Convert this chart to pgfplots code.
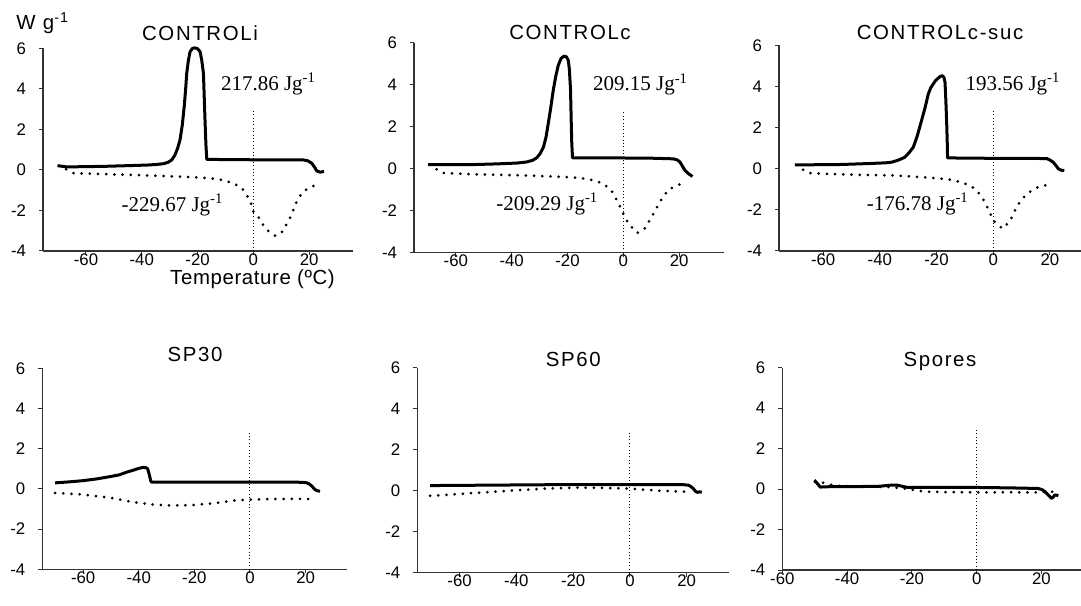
\documentclass[border=0pt]{standalone}
\usepackage{fontspec}
\setmainfont{Liberation Sans}
\newfontfamily\tnr{Liberation Serif}
\newfontfamily\ttl[LetterSpace=8]{Liberation Sans}
\newfontfamily\ttlb[LetterSpace=3]{Liberation Sans}
\usepackage{pgfplots}
\pgfplotsset{compat=1.18}

\pgfplotsset{
 dsc/.style={
  scale only axis,
  axis x line=bottom, axis y line=left,
  axis line style={-, black!80, line width=0.6bp},
  ymin=-4, ymax=6,
  ytick={-4,-2,0,2,4,6}, yticklabels={-4,-2,0,2,4,6},
  xtick={-60,-40,-20,0,20}, xticklabels={-60,-40,-20,0,20},
  tick align=outside,
  major tick length=2bp,
  tick style={black!80, line width=0.5bp},
  tick label style={font=\fontsize{8.4bp}{9bp}\selectfont},
  yticklabel style={xshift=-3bp},
  xticklabel style={yshift=4.3bp},
  clip=false,
 },
 solidc/.style={black, line width=1.5bp, line join=round, no markers},
 dotc/.style={black, line width=1.5bp, line cap=round, dash pattern=on 0pt off 4.1bp, no markers},
 zeroline/.style={black, line width=0.5bp, dash pattern=on 0.4bp off 1.3bp, no markers},
}
\tikzset{anno/.style={font=\tnr\fontsize{10.5bp}{12bp}\selectfont, anchor=base, inner sep=0pt}}
\newcommand{\ttlfont}{\ttl\fontsize{10.2bp}{12bp}\selectfont}

\begin{document}
\begin{tikzpicture}
\useasboundingbox (0,0) rectangle (540.5bp,303bp);

% ---------- CONTROLi ----------
\begin{axis}[dsc, at={(21.5bp,177.5bp)}, anchor=south west,
  width=155bp, height=101.35bp, xmin=-75.4, xmax=35.7]
\addplot[zeroline] coordinates {(0,-4) (0,2.96)};
\addplot[dotc] coordinates {
(-67.1,0.03) (-64.5,-0.16) (-60,-0.18) (-52.5,-0.21) (-45,-0.24) (-34.6,-0.29) (-27,-0.33) (-20.3,-0.37)
(-15,-0.42) (-11.9,-0.48) (-9.5,-0.56) (-7.2,-0.67) (-5.6,-0.77) (-4.2,-0.89) (-2.4,-1.22) (-0.9,-1.63)
(0,-2.05) (1.4,-2.22) (3.0,-2.63) (5.1,-2.99) (7.8,-3.25) (10.5,-3.04) (13.4,-2.30) (15.3,-1.63)
(17.3,-1.15) (19.7,-0.90) (22.4,-0.74)};
\addplot[solidc] coordinates {
(-70.2,0.21) (-67,0.15) (-60,0.16) (-52.5,0.18) (-45,0.21) (-38,0.24) (-34.6,0.27) (-32,0.31)
(-30.5,0.38) (-29.2,0.5) (-28.1,0.74) (-27.2,1.05) (-26.3,1.48) (-25.5,2.2) (-24.8,3.12) (-24.3,3.95)
(-23.9,4.76) (-23.3,5.4) (-22.7,5.83) (-21.8,6.0) (-20.9,6.02) (-20.0,5.98) (-19.1,5.83) (-18.5,5.4)
(-17.9,4.76) (-17.6,3.5) (-17.3,2.3) (-17.0,1.2) (-16.7,0.52) (-10,0.51) (0,0.5) (10,0.49) (18,0.49)
(19.5,0.45) (20.9,0.33) (22,0.12) (22.7,-0.05) (23.9,-0.11) (25.3,-0.08)};
\node[anno] at (axis cs:5.4,3.94) {217.86 Jg\textsuperscript{-1}};
\node[anno] at (axis cs:-29.0,-2.05) {-229.67 Jg\textsuperscript{-1}};
\end{axis}

% ---------- CONTROLc ----------
\begin{axis}[dsc, at={(207bp,176.65bp)}, anchor=south west,
  width=155bp, height=105bp, xmin=-75.0, xmax=36.1]
\addplot[zeroline] coordinates {(0,-4) (0,2.74)};
\addplot[dotc] coordinates {
(-66.9,-0.03) (-64.2,-0.21) (-60,-0.23) (-52.5,-0.27) (-45,-0.29) (-34.6,-0.32) (-27,-0.36) (-20.3,-0.40)
(-15,-0.45) (-11.9,-0.52) (-9,-0.62) (-6.8,-0.75) (-4.2,-1.06) (-2.8,-1.38) (-1.4,-1.75) (0,-2.14)
(1.2,-2.45) (2.4,-2.70) (5.0,-3.06) (7.8,-2.83) (10.8,-2.14) (13.7,-1.46) (15.7,-1.08) (18.4,-0.83) (21.6,-0.68)};
\addplot[solidc] coordinates {
(-69.9,0.19) (-60,0.19) (-52.5,0.2) (-45,0.23) (-38,0.27) (-34.6,0.32) (-32.5,0.4) (-31,0.52)
(-29.8,0.72) (-28.6,1.03) (-27.7,1.5) (-26.9,2.14) (-26,2.9) (-25.1,3.73) (-24.2,4.4) (-23.3,4.92)
(-22.3,5.25) (-21.3,5.36) (-20.4,5.33) (-19.7,5.16) (-19.3,4.7) (-18.9,3.73) (-18.7,2.5) (-18.5,1.35)
(-18.2,0.52) (-10,0.52) (0,0.51) (10,0.5) (17.9,0.47) (19.3,0.42) (20.3,0.32) (21.2,0.12) (22.1,-0.08)
(23.5,-0.25) (24.8,-0.37)};
\node[anno] at (axis cs:6.2,3.7) {209.15 Jg\textsuperscript{-1}};
\node[anno] at (axis cs:-27.2,-1.99) {-209.29 Jg\textsuperscript{-1}};
\end{axis}

% ---------- CONTROLc-suc ----------
\begin{axis}[dsc, at={(389.5bp,177.5bp)}, anchor=south west,
  width=151bp, height=102.75bp, xmin=-75.6, xmax=31.0]
\addplot[zeroline] coordinates {(0,-4) (0,2.91)};
\addplot[dotc] coordinates {
(-67.1,-0.05) (-64.7,-0.21) (-60,-0.24) (-53.5,-0.27) (-45,-0.30) (-35.9,-0.32) (-28,-0.38) (-21.8,-0.44)
(-16,-0.51) (-13.5,-0.57) (-9.8,-0.73) (-7.1,-0.92) (-5.1,-1.18) (-3.0,-1.59) (-0.9,-2.22) (0.6,-2.59)
(3.3,-2.91) (5.9,-2.56) (8.2,-1.86) (10.2,-1.46) (12.9,-1.13) (15.8,-0.89) (18.4,-0.81) (21.2,-0.76)};
\addplot[solidc] coordinates {
(-70,0.19) (-60,0.2) (-53.5,0.21) (-45,0.25) (-38,0.29) (-35.9,0.32) (-33.5,0.42) (-31.2,0.56)
(-29.7,0.78) (-28.2,1.05) (-26.8,1.6) (-25.3,2.34) (-24,3.0) (-22.9,3.64) (-22,3.95) (-21.2,4.12)
(-20.3,4.3) (-19.4,4.41) (-18.6,4.5) (-17.9,4.53) (-17.4,4.45) (-17.0,4.21) (-16.7,3.3) (-16.4,2.18)
(-16.2,1.2) (-16.1,0.53) (-10,0.52) (0,0.51) (10,0.51) (17,0.5) (18.9,0.5) (20,0.43) (21.2,0.32)
(22.2,0.15) (23.0,0.0) (24,-0.07) (25.1,-0.08)};
\node[anno] at (axis cs:7.0,3.8) {193.56 Jg\textsuperscript{-1}};
\node[anno] at (axis cs:-26.6,-2.02) {-176.78 Jg\textsuperscript{-1}};
\end{axis}

% ---------- SP30 ----------
\begin{axis}[dsc, at={(21.15bp,18.35bp)}, anchor=south west,
  width=152.5bp, height=100.5bp, xmin=-74.7, xmax=35.0]
\addplot[zeroline] coordinates {(0,-4) (0,2.87)};
\addplot[dotc] coordinates {
(-70.1,-0.20) (-60,-0.28) (-50.4,-0.44) (-42,-0.66) (-34.8,-0.78) (-27.6,-0.83) (-20.4,-0.80)
(-12,-0.70) (-6,-0.58) (0,-0.53) (8.4,-0.50) (22.2,-0.50)};
\addplot[solidc] coordinates {
(-70.1,0.3) (-65,0.35) (-60,0.41) (-55,0.5) (-50.4,0.61) (-47,0.7) (-44.4,0.83) (-42,0.93)
(-40,1.02) (-38.5,1.07) (-37.3,1.05) (-36.8,1.0) (-36.2,0.7) (-35.7,0.4) (-35.4,0.34) (-20,0.34)
(0,0.34) (19.2,0.33) (20.5,0.3) (21.6,0.22) (22.5,0.1) (23.4,-0.04) (24.3,-0.1) (25.2,-0.11)};
\end{axis}

% ---------- SP60 ----------
\begin{axis}[dsc, at={(208.65bp,16.65bp)}, anchor=south west,
  width=155.85bp, height=102.5bp, xmin=-74.9, xmax=34.9]
\addplot[zeroline] coordinates {(0,-4) (0,2.93)};
\addplot[dotc] coordinates {
(-70.4,-0.25) (-59.9,-0.16) (-50,-0.07) (-42.3,0.0) (-30.5,0.10) (-18.8,0.15) (-10,0.14) (0,0.10)
(10.6,0.0) (20,-0.05)};
\addplot[solidc] coordinates {
(-70.4,0.25) (-50,0.27) (-30,0.29) (-10,0.3) (0,0.3) (10,0.29) (19,0.29) (20.6,0.27) (21.5,0.2)
(22.4,0.09) (23.1,-0.03) (23.8,-0.08) (24.5,-0.06) (25.3,-0.07)};
\end{axis}

% ---------- Spores ----------
\begin{axis}[dsc, at={(391.15bp,18bp)}, anchor=south west,
  width=149.35bp, height=101.15bp, xmin=-60, xmax=32.2]
\addplot[zeroline] coordinates {(0,-4) (0,3.03)};
\addplot[dotc] coordinates {
(-49.9,0.36) (-47.3,0.31) (-45,0.22) (-43.2,0.16) (-38,0.13) (-32.9,0.11) (-27,0.1) (-22.6,0.03)
(-18,-0.08) (-15.4,-0.13) (-8,-0.15) (0,-0.16) (10,-0.16) (18.5,-0.16) (22,-0.14) (24.1,-0.13)};
\addplot[solidc] coordinates {
(-50.1,0.44) (-49.3,0.3) (-48.3,0.1) (-45,0.12) (-38.1,0.12) (-30,0.14) (-26,0.2) (-24.7,0.2)
(-23,0.14) (-21.6,0.09) (-10,0.08) (0,0.08) (10,0.06) (19,0.03) (20.2,-0.03) (21.1,-0.13) (22.1,-0.3)
(23.1,-0.46) (23.6,-0.4) (24.1,-0.29) (24.6,-0.3) (25.2,-0.33)};
\end{axis}

% ---------- titles and labels ----------
\node[anchor=base, inner sep=0pt, font=\ttlfont] at (100bp,282.65bp) {CONTROLi};
\node[anchor=base, inner sep=0pt, font=\ttlfont] at (285bp,283bp) {CONTROLc};
\node[anchor=base, inner sep=0pt, font=\ttlfont] at (470bp,283bp) {CONTROLc-suc};
\node[anchor=base, inner sep=0pt, font=\ttlfont] at (97.5bp,122.15bp) {SP30};
\node[anchor=base, inner sep=0pt, font=\ttlfont] at (286.65bp,119.65bp) {SP60};
\node[anchor=base, inner sep=0pt, font=\ttlfont] at (470bp,119.65bp) {Spores};
\node[anchor=base west, inner sep=0pt, font=\ttlfont] at (8bp,288.35bp) {W g\textsuperscript{-1}};
\node[anchor=base, inner sep=0pt, font=\ttlb\fontsize{10.2bp}{12bp}\selectfont] at (126.25bp,160.5bp) {Temperature (ºC)};
\end{tikzpicture}
\end{document}
